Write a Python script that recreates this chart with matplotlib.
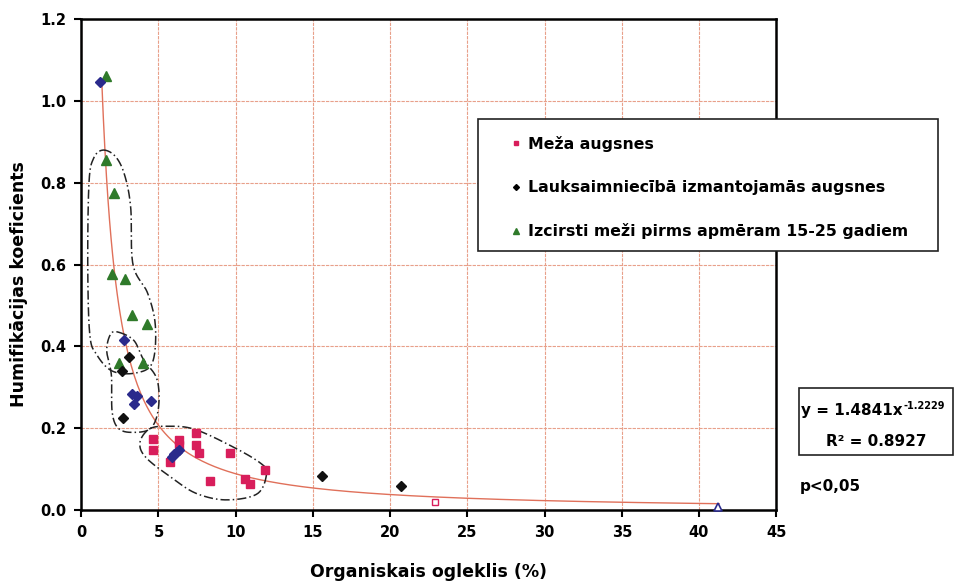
import numpy as np
import matplotlib
matplotlib.use("Agg")
import matplotlib.pyplot as plt
from matplotlib.patches import Rectangle
from matplotlib.text import Annotation

plt.rcParams["font.family"] = ["DejaVu Sans"]
plt.rcParams["font.weight"] = "bold"

# Meža augsnes (rozā kvadrāti)
meza_x = [4.67, 4.67, 6.34, 6.34, 7.46, 7.46, 7.63, 5.74, 9.61, 11.87, 8.32, 10.58, 10.9]
meza_y = [0.173, 0.147, 0.171, 0.159, 0.188, 0.159, 0.140, 0.118, 0.139, 0.098, 0.072, 0.075, 0.064]
meza_tuksi_x = [22.9]
meza_tuksi_y = [0.020]

# Lauksaimniecībā izmantojamās augsnes (rombi)
lauks_zili_x = [1.23, 2.74, 3.28, 3.60, 3.39, 4.53, 5.85, 6.00, 6.17, 6.32]
lauks_zili_y = [1.047, 0.415, 0.283, 0.280, 0.260, 0.266, 0.130, 0.137, 0.142, 0.148]
lauks_melni_x = [3.06, 2.67, 2.70, 15.6, 20.7]
lauks_melni_y = [0.374, 0.339, 0.225, 0.083, 0.059]

# Izcirsti meži (zaļi trijstūri)
izc_x = [1.59, 1.59, 2.09, 1.98, 2.80, 3.27, 4.25, 2.42, 4.00]
izc_y = [1.061, 0.855, 0.776, 0.577, 0.566, 0.478, 0.454, 0.359, 0.359]
izc_tuksi_x = [41.2]
izc_tuksi_y = [0.008]

# trenda līnija y = a * x^b
trend_a = 1.4841
trend_b = -1.2229
trend_x_min, trend_x_max = 1.33, 41.3

# grupu kontūras (iezīmētās zonas)
grupa1 = [(1.4, 0.88), (2.2, 0.865), (2.8, 0.82), (3.2, 0.74), (3.35, 0.6), (4.3, 0.53),
          (4.8, 0.45), (4.6, 0.36), (3.5, 0.335), (2.0, 0.34), (1.0, 0.38), (0.55, 0.43),
          (0.42, 0.6), (0.5, 0.8), (0.8, 0.86)]
grupa2 = [(2.4, 0.435), (3.4, 0.415), (4.0, 0.37), (4.9, 0.32), (5.0, 0.25), (4.5, 0.2),
          (3.3, 0.19), (2.4, 0.2), (2.0, 0.24), (1.95, 0.33), (1.65, 0.39), (1.9, 0.43)]
grupa3 = [(4.4, 0.198), (5.5, 0.205), (7.3, 0.198), (9.8, 0.155), (11.6, 0.115), (12.0, 0.09),
          (11.4, 0.04), (9.4, 0.025), (7.5, 0.04), (6.0, 0.075), (4.2, 0.128), (3.8, 0.165)]

x_ticks = [0, 5, 10, 15, 20, 25, 30, 35, 40, 45]
y_ticks = [0.0, 0.2, 0.4, 0.6, 0.8, 1.0, 1.2]


def closed_spline(pts, n=20):
    # slēgta Catmull-Rom līkne caur kontūras punktiem
    p = np.array(pts)
    out = []
    k = len(p)
    for i in range(k):
        p0, p1, p2, p3 = p[i - 1], p[i], p[(i + 1) % k], p[(i + 2) % k]
        t = np.linspace(0, 1, n, endpoint=False)[:, None]
        seg = 0.5 * ((2 * p1) + (-p0 + p2) * t + (2 * p0 - 5 * p1 + 4 * p2 - p3) * t ** 2
                     + (-p0 + 3 * p1 - 3 * p2 + p3) * t ** 3)
        out.append(seg)
    out = np.vstack(out)
    return np.vstack([out, out[:1]])


fig = plt.figure(figsize=(9.56, 5.81), dpi=100)
ax = fig.add_axes([0.085, 0.122, 0.727, 0.845])

pink = "#d81e5b"
navy = "#2a2a8c"
green = "#2f7a2a"

ax.plot(meza_x, meza_y, "s", color=pink, ms=6, zorder=4)
ax.plot(meza_tuksi_x, meza_tuksi_y, "s", mfc="white", mec=pink, ms=5, mew=1, zorder=4)
ax.plot(lauks_zili_x, lauks_zili_y, "D", color=navy, ms=5.5, zorder=5)
ax.plot(lauks_melni_x, lauks_melni_y, "D", color="#111111", ms=5.5, zorder=5)
ax.plot(izc_x, izc_y, "^", color=green, ms=6.5, zorder=4)
ax.plot(izc_tuksi_x, izc_tuksi_y, "^", mfc="white", mec=navy, ms=6, mew=1.2, zorder=4,
        clip_on=False)

tx = np.linspace(trend_x_min, trend_x_max, 400)
ax.plot(tx, trend_a * tx ** trend_b, color="#e0705a", lw=1, zorder=3)

for g in (grupa1, grupa2, grupa3):
    c = closed_spline(g)
    ax.plot(c[:, 0], c[:, 1], color="#222222", lw=1.1, ls=(0, (6, 2, 1, 2)), zorder=3)

ax.set_xlim(0, 45)
ax.set_ylim(0, 1.2)
ax.set_xticks(x_ticks)
ax.set_yticks(y_ticks)
ax.set_yticklabels([f"{v:.1f}" for v in y_ticks])
ax.grid(True, color="#e8a08a", lw=0.8, ls=(0, (3, 1)))
ax.set_axisbelow(True)
for s in ax.spines.values():
    s.set_linewidth(1.8)
    s.set_color("black")
ax.tick_params(direction="out", length=5, width=1.5, labelsize=10.5, pad=6)
ax.set_xlabel("Organiskais ogleklis (%)", fontsize=12.5, fontweight="bold", labelpad=16)
ax.set_ylabel("Humifikācijas koeficients", fontsize=12.5, fontweight="bold")
ax.yaxis.set_label_coords(-0.077, 0.46)

# leģenda
fig.patches.append(Rectangle((478 / 956, 1 - 251 / 581), 460 / 956, 132 / 581,
                             transform=fig.transFigure, facecolor="white",
                             edgecolor="#222222", lw=1.2, zorder=4))
h1, = ax.plot([], [], "s", color=pink, ms=3.5)
h2, = ax.plot([], [], "D", color="black", ms=3)
h3, = ax.plot([], [], "^", color=green, ms=4)
leg = fig.legend([h1, h2, h3],
                 ["Meža augsnes", "Lauksaimniecībā izmantojamās augsnes",
                  "Izcirsti meži pirms apmēram 15-25 gadiem"],
                 loc="upper left", bbox_to_anchor=(503 / 956, 1 - 128 / 581),
                 frameon=False, handlelength=0.6, handletextpad=0.5,
                 labelspacing=1.8, borderpad=0, prop={"weight": "bold", "size": 11.3})
leg.set_zorder(12)

# vienādojuma lodziņš
fig.patches.append(Rectangle((799 / 956, 1 - 455 / 581), 154 / 956, 67 / 581,
                             transform=fig.transFigure, facecolor="white",
                             edgecolor="#222222", lw=1.2, zorder=4))
t1 = fig.text(801 / 956, 1 - 410 / 581, "y = 1.4841x",
              fontsize=11, fontweight="bold", va="center", ha="left", zorder=11)
expo = Annotation("-1.2229", xy=(1, 1), xycoords=t1, xytext=(0.5, 1), textcoords="offset points",
                  fontsize=7, fontweight="bold", ha="left", va="top", zorder=11)
fig.add_artist(expo)
fig.text(876 / 956, 1 - 441 / 581, "R² = 0.8927",
         fontsize=11, fontweight="bold", va="center", ha="center", zorder=11)
fig.text(800 / 956, 1 - 486 / 581, "p<0,05", fontsize=11, fontweight="bold",
         va="center", ha="left")

fig.savefig("out.png", dpi=100)
